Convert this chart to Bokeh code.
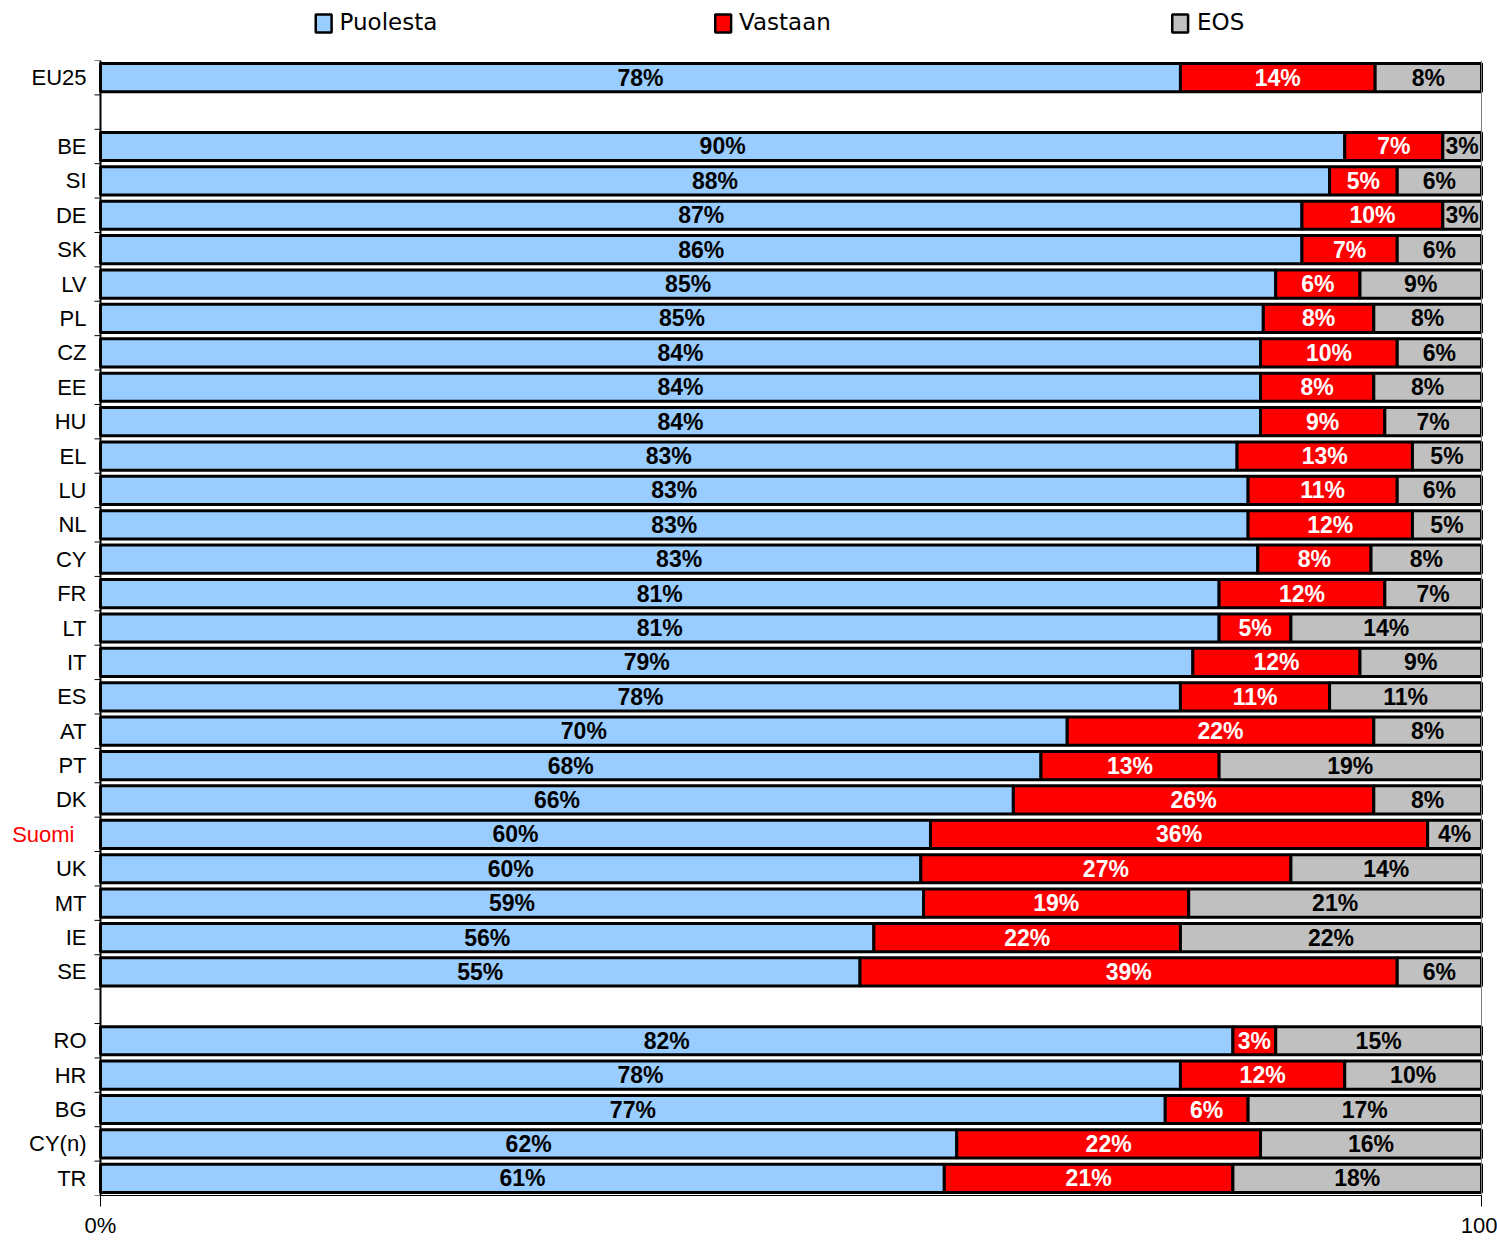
from bokeh.plotting import figure
from bokeh.models import Range1d, FixedTicker, Span, ColumnDataSource
from bokeh.layouts import column
from bokeh.core.properties import value
from bokeh.embed import file_html
from bokeh.resources import INLINE

# ---------------- data ----------------
categories = ["EU25", "BE", "SI", "DE", "SK", "LV", "PL", "CZ", "EE", "HU", "EL", "LU",
              "NL", "CY", "FR", "LT", "IT", "ES", "AT", "PT", "DK", "Suomi", "UK", "MT",
              "IE", "SE", "RO", "HR", "BG", "CY(n)", "TR"]
gap_after = ["EU25", "SE"]
series = ["Puolesta", "Vastaan", "EOS"]

puolesta = [78.2, 90.1, 89.0, 87.0, 87.0, 85.1, 84.2, 84.0, 84.0, 84.0, 82.3, 83.1,
            83.1, 83.8, 81.0, 81.0, 79.1, 78.2, 70.0, 68.1, 66.1, 60.1, 59.4, 59.6,
            56.0, 55.0, 82.0, 78.2, 77.1, 62.0, 61.1]
vastaan = [14.1, 7.1, 4.9, 10.2, 6.9, 6.1, 8.0, 9.9, 8.2, 9.0, 12.7, 10.8,
           11.9, 8.2, 12.0, 5.2, 12.1, 10.8, 22.2, 12.9, 26.1, 36.0, 26.8, 19.2,
           22.2, 38.9, 3.1, 11.9, 6.0, 22.0, 20.9]
eos = [7.7, 2.8, 6.1, 2.8, 6.1, 8.8, 7.8, 6.1, 7.8, 7.0, 5.0, 6.1,
       5.0, 8.0, 7.0, 13.8, 8.8, 11.0, 7.8, 19.0, 7.8, 3.9, 13.8, 21.2,
       21.8, 6.1, 14.9, 9.9, 16.9, 16.0, 18.0]

puolesta_labels = ["78%", "90%", "88%", "87%", "86%", "85%", "85%", "84%", "84%", "84%", "83%", "83%",
                   "83%", "83%", "81%", "81%", "79%", "78%", "70%", "68%", "66%", "60%", "60%", "59%",
                   "56%", "55%", "82%", "78%", "77%", "62%", "61%"]
vastaan_labels = ["14%", "7%", "5%", "10%", "7%", "6%", "8%", "10%", "8%", "9%", "13%", "11%",
                  "12%", "8%", "12%", "5%", "12%", "11%", "22%", "13%", "26%", "36%", "27%", "19%",
                  "22%", "39%", "3%", "12%", "6%", "22%", "21%"]
eos_labels = ["8%", "3%", "6%", "3%", "6%", "9%", "8%", "6%", "8%", "7%", "5%", "6%",
              "5%", "8%", "7%", "14%", "9%", "11%", "8%", "19%", "8%", "4%", "14%", "21%",
              "22%", "6%", "15%", "10%", "17%", "16%", "18%"]

x_ticks = [0, 100]
x_tick_labels = ["0%", "100"]
highlight = "Suomi"

colors = ["#99CCFF", "#FF0000", "#C0C0C0"]
text_colors = ["#000000", "#FFFFFF", "#000000"]

# ---------------- layout ----------------
W = 1497
LEG_H = 60
MAIN_H = 1180
BOTTOM = 43
PLOT_LEFT_PX = 100      # pixel where 0 % sits
PLOT_W_PX = 1381        # pixels for 0..100 %
FRAME_W = 1484
ppu = PLOT_W_PX / 100.0  # pixels per unit

rows = []
r = 0
for c in categories:
    rows.append(r)
    r += 1
    if c in gap_after:
        r += 1
n_slots = r

# legend figure
leg = figure(width=W, height=LEG_H, output_backend="svg", toolbar_location=None,
             x_range=Range1d(0, W), y_range=Range1d(LEG_H, 0),
             min_border=0, min_border_left=0, min_border_right=0,
             min_border_top=0, min_border_bottom=0)
leg.axis.visible = False
leg.grid.visible = False
leg.outline_line_color = None
leg_sq_x = [326, 729, 1190]
leg_tx_x = [342, 745, 1207]
leg.rect(x=leg_sq_x, y=[23, 23, 23], width=16, height=18, fill_color=colors,
         line_color="black", line_width=2.5)
leg.text(x=leg_tx_x, y=[21, 21, 21], text=series, text_font=value("DejaVu Sans"),
         text_font_size="23px", text_align="left", text_baseline="middle", text_color="black")

# main figure
x0 = -PLOT_LEFT_PX / ppu
x1 = x0 + FRAME_W / ppu
p = figure(width=W, height=MAIN_H, output_backend="svg", toolbar_location=None,
           x_range=Range1d(x0, x1), y_range=Range1d(n_slots - 0.5, -0.5),
           min_border_left=0, min_border_right=W - FRAME_W,
           min_border_top=0, min_border_bottom=BOTTOM)
p.grid.visible = False
p.outline_line_color = None
p.yaxis.visible = False

left = [0.0] * len(categories)
for vals, labs, col, tcol in zip([puolesta, vastaan, eos],
                                 [puolesta_labels, vastaan_labels, eos_labels],
                                 colors, text_colors):
    right = [a + b for a, b in zip(left, vals)]
    src = ColumnDataSource(dict(y=rows, left=left, right=right,
                                mid=[(a + b) / 2 for a, b in zip(left, right)], lab=labs))
    p.hbar(y="y", left="left", right="right", height=0.82, source=src,
           fill_color=col, line_color="black", line_width=3)
    p.text(x="mid", y="y", text="lab", source=src, text_font=value("Liberation Sans"),
           text_font_style="bold", text_font_size="23px", text_align="center",
           text_baseline="middle", text_color=tcol)
    left = right

# right border line
p.add_layout(Span(location=100, dimension="height", line_color="#808080", line_width=1))

# manual category axis (so that the highlighted label can be red)
p.segment(x0=[0], y0=[-0.5], x1=[0], y1=[n_slots - 0.5], line_color="black", line_width=2)
bounds = [i - 0.5 for i in range(n_slots + 1)]
p.segment(x0=[0] * len(bounds), y0=bounds, x1=[-6 / ppu] * len(bounds), y1=bounds,
          line_color="black", line_width=1)
cat_src = ColumnDataSource(dict(
    x=[0] * len(categories), y=rows, t=categories,
    c=["#FF0000" if c == highlight else "#000000" for c in categories],
    off=[-26 if c == highlight else -14 for c in categories]))
p.text(x="x", y="y", text="t", x_offset="off", text_color="c", source=cat_src,
       text_font=value("Liberation Sans"), text_font_size="22px",
       text_align="right", text_baseline="middle")

# x axis
xax = p.xaxis[0]
xax.ticker = FixedTicker(ticks=x_ticks)
xax.bounds = (0, 100)
xax.major_label_overrides = {t: l for t, l in zip(x_ticks, x_tick_labels)}
xax.major_tick_out = 11
xax.major_tick_in = 0
xax.minor_tick_out = 0
xax.axis_line_color = "black"
xax.major_label_text_font = "Liberation Sans"
xax.major_label_text_font_size = "22px"
xax.major_label_text_color = "black"
xax.major_label_standoff = 6

layout = column(leg, p, spacing=0)
open("out.html", "w").write(file_html(layout, INLINE))
